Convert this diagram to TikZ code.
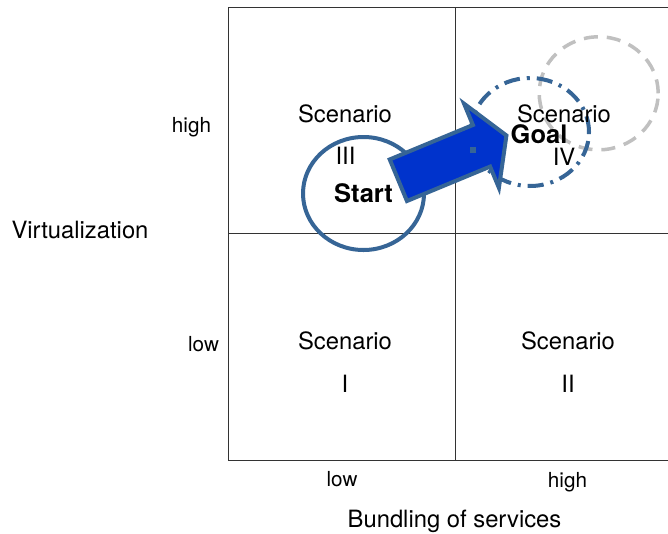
\documentclass[tikz,border=0pt]{standalone}
\usepackage{fontspec}
\setmainfont{TeX Gyre Heros}
\usetikzlibrary{shapes.geometric}
\definecolor{steel}{RGB}{54,101,150}
\definecolor{arrowblue}{RGB}{0,51,204}
\definecolor{lgray}{RGB}{192,192,192}
\begin{document}
\begin{tikzpicture}[x=1pt,y=-1pt,
  frameline/.style={line width=1pt, draw=black!80},
  bigtext/.style={font=\fontsize{23.8}{28}\selectfont, anchor=base, inner sep=0pt},
  smalltext/.style={font=\fontsize{20.7}{24}\selectfont, anchor=base, inner sep=0pt},
  boldtext/.style={font=\fontsize{25.5}{30}\selectfont\bfseries, anchor=base, inner sep=0pt},
  ring/.style={ellipse, inner sep=0pt, outer sep=0pt},
]
\useasboundingbox (0,0) rectangle (668,533);
\fill[white] (0,0) rectangle (668,533);
% frame
\coordinate (tr) at (670,7);
\coordinate (tl) at (228,7);
\coordinate (bl) at (228,460);
\coordinate (br) at (670,460);
\coordinate (mt) at (455,7);
\coordinate (mb) at (455,460);
\coordinate (ml) at (228,233);
\coordinate (mr) at (670,233);
\draw[frameline] (tr) -- (tl) -- (bl) -- (br);
\draw[frameline] (mt) -- (mb);
\draw[frameline] (ml) -- (mr);
% circles
\node[ring, draw=steel, line width=4pt, minimum width=121pt, minimum height=113pt] (cstart) at (363.5,193.5) {};
\node[ring, draw=lgray, line width=3.5pt, dash pattern=on 14pt off 9pt, minimum width=119pt, minimum height=113pt] (cold) at (598.7,93.3) {};
\node[ring, draw=steel, line width=4pt, dash pattern=on 16pt off 7pt on 3pt off 7pt, minimum width=118pt, minimum height=108pt] (cgoal) at (530,132) {};
% block arrow
\draw[draw=steel, fill=arrowblue, line width=4pt, line join=miter]
  (389.74,159.45) -- (472.89,125.0) -- (464.09,103.75) -- (506.44,135.46)
  -- (498.91,187.83) -- (490.11,166.58) -- (406.96,201.0) -- cycle;
\fill[steel] (470.3,147.3) rectangle (475.8,152.8);
% texts
\node[bigtext] (s3) at (345,122) {Scenario};
\node[bigtext] (n3) at (345.5,164) {III};
\node[boldtext] (tstart) at (363.5,202) {Start};
\node[bigtext] (s4) at (564,122) {Scenario};
\node[bigtext] (n4) at (564,165) {IV};
\node[boldtext] (tgoal) at (539,143) {Goal};
\node[bigtext] (s1) at (345,349) {Scenario};
\node[bigtext] (n1) at (345,392) {I};
\node[bigtext] (s2) at (568,349) {Scenario};
\node[bigtext] (n2) at (568,392) {II};
\node[smalltext] (yhigh) at (191.5,132) {high};
\node[smalltext] (ylow) at (203.5,351) {low};
\node[bigtext] (ylab) at (80,238) {Virtualization};
\node[smalltext] (xlow) at (342,486) {low};
\node[smalltext] (xhigh) at (567.5,487) {high};
\node[bigtext] (xlab) at (454.5,527.5) {Bundling of services};
\end{tikzpicture}
\end{document}
